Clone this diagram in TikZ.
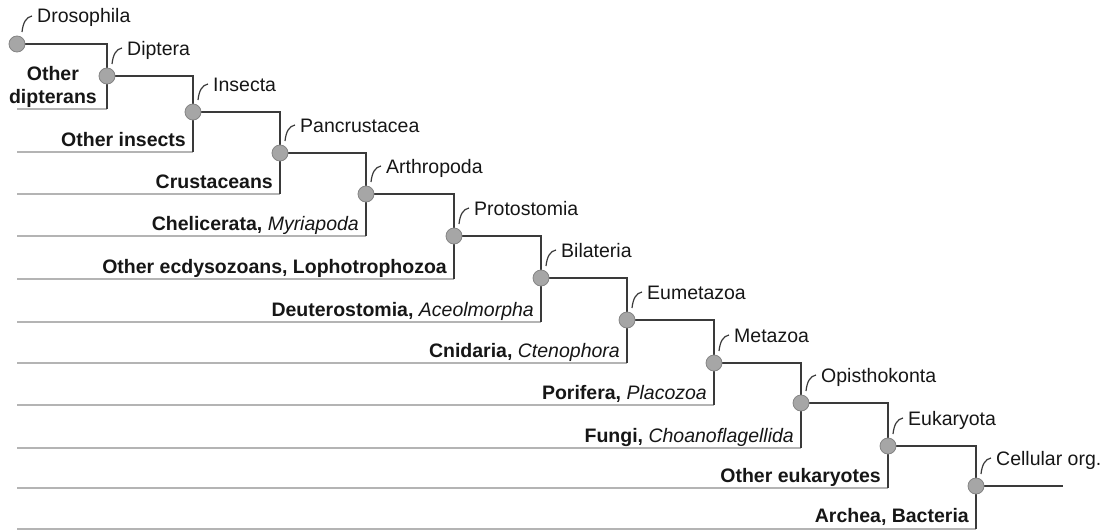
\documentclass[tikz,border=0pt]{standalone}
\usepackage{fontspec}
\setmainfont{Liberation Sans}
\usetikzlibrary{backgrounds}
\definecolor{branchdark}{RGB}{58,58,58}
\definecolor{stubgray}{RGB}{180,180,180}
\definecolor{cladefill}{RGB}{166,166,166}
\definecolor{cladeedge}{RGB}{132,132,132}
\definecolor{ink}{RGB}{22,22,22}
\newcommand{\minortaxon}[1]{{\mdseries\itshape #1}}
\tikzset{
  clade/.style={circle, draw=cladeedge, fill=cladefill, line width=0.8pt,
              inner sep=0pt, minimum size=16pt},
  branch/.style={draw=branchdark, line width=1.9pt},
  stub/.style={draw=stubgray, line width=1.9pt},
  hook/.style={draw=branchdark, line width=1.2pt},
  cladename/.style={font=\fontsize{19.5}{23}\selectfont, text=ink,
              anchor=base west, inner sep=0pt},
  outgroup/.style={font=\bfseries\fontsize{19.5}{23}\selectfont, text=ink,
              anchor=base east, inner sep=0pt, xshift=-7pt, yshift=6pt},
}
\begin{document}
\begin{tikzpicture}[x=1pt, y=-1pt]
  \useasboundingbox (0,0) rectangle (1102,530);

  % clades along the stair
  \foreach \x/\y/\lab [count=\i from 0] in {17/44/Drosophila, 107/76/Diptera,
      193/112/Insecta, 280/153/Pancrustacea, 366/194/Arthropoda,
      454/236/Protostomia, 541/278/Bilateria, 627/320/Eumetazoa,
      714/363/Metazoa, 801/403/Opisthokonta, 888/446/Eukaryota,
      976/486/Cellular org.} {
    \node[clade] (n\i) at (\x,\y) {};
    \node[cladename] (t\i) at (\x+20,\y-21) {\lab};
    \draw[hook] (\x+5,\y-12) .. controls (\x+6,\y-21) and (\x+9,\y-27) .. (\x+15,\y-28);
  }

  \begin{scope}[on background layer]
    \foreach \j/\yb in {1/109, 2/152, 3/194, 4/236, 5/279, 6/322,
        7/363, 8/405, 9/448, 10/488, 11/528.6} {
      \pgfmathtruncatemacro{\prev}{\j-1}
      \coordinate (s\j) at (17,\yb);
      \coordinate (b\j) at (n\j |- 0,\yb);
      \draw[stub] (s\j) -- (b\j);
      \draw[branch] (n\prev.center) -| (b\j);
    }
    \coordinate (rootend) at (1063,486);
    \draw[branch] (n11.center) -- (rootend);
  \end{scope}

  % sister groups
  \node[outgroup, align=center, anchor=south east, xshift=-3pt, yshift=-5pt] (o1) at (b1)
    {Other\\dipterans};
  \foreach \j/\txt in {2/{Other insects}, 3/Crustaceans,
      4/{Chelicerata, \minortaxon{Myriapoda}},
      5/{Other ecdysozoans, Lophotrophozoa},
      6/{Deuterostomia, \minortaxon{Aceolmorpha}},
      7/{Cnidaria, \minortaxon{Ctenophora}},
      8/{Porifera, \minortaxon{Placozoa}},
      9/{Fungi, \minortaxon{Choanoflagellida}},
      10/{Other eukaryotes}, 11/{Archea, Bacteria}}
    \node[outgroup] (o\j) at (b\j) {\txt};
\end{tikzpicture}
\end{document}
